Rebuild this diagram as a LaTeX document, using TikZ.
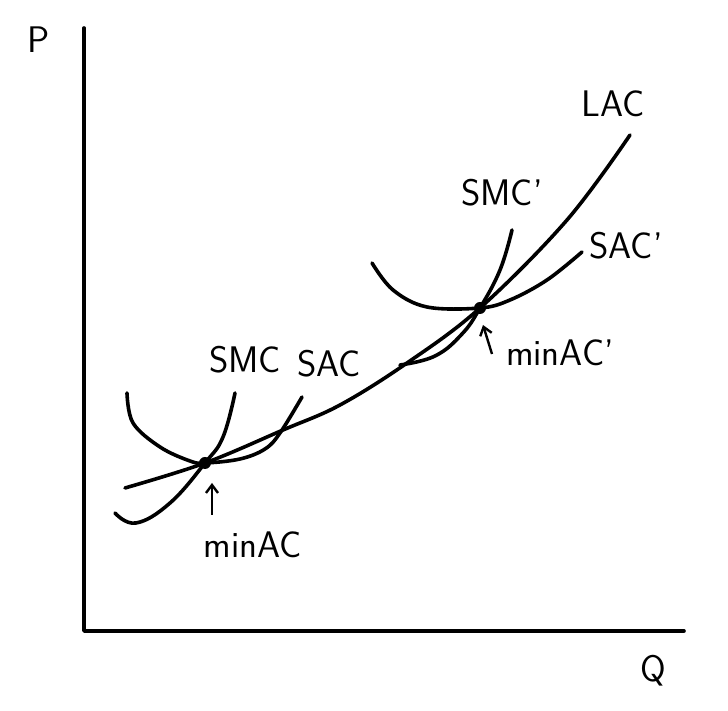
\documentclass[tikz,border=0pt]{standalone}
\usepackage{tikz}
\usetikzlibrary{arrows.meta,positioning}

\tikzset{
  curve/.style={line width=3.6pt, line cap=round, line join=round},
  lbl/.style={font=\sffamily\fontsize{37}{37}\selectfont, inner sep=0pt},
  dot/.style={circle, fill=black, inner sep=0pt, minimum size=12pt},
  arr/.style={line width=2.4pt, -{Straight Barb[length=8pt,width=12pt]}}
}

\begin{document}
\begin{tikzpicture}[x=1pt,y=1pt]
\useasboundingbox (0,0) rectangle (728,711);

%axes
\coordinate (o) at (84,80);
\coordinate (ytop) at (84,683);
\coordinate (xend) at (684,80);
\draw[curve] (ytop) -- (o) -- (xend);
\node[lbl] (p) at (39,671) {P};
\node[lbl] (q) at (653,40) {Q};

%tangency points
\node[dot] (t1) at (205,248) {};
\node[dot] (t2) at (480,403) {};

%LAC
\draw[curve] plot[smooth, tension=0.6] coordinates {(125,223) (t1) (283,281) (340,306) (407,348) (t2) (567,491) (630,576)};
\node[lbl] (lac) at (613,607) {LAC};

%SAC, SMC
\draw[curve] plot[smooth, tension=0.6] coordinates {(127,318) (133,288) (160,264) (190,250) (t1) (240,252) (265,262) (280,278) (302,314)};
\draw[curve] plot[smooth, tension=0.7] coordinates {(115,198) (136,188) (170,208) (t1) (223,274) (235,318)};
\node[lbl] (smc) at (245,351) {SMC};
\node[lbl] (sac) at (329,347) {SAC};

%SAC', SMC'
\draw[curve] plot[smooth, tension=0.6] coordinates {(372,448) (393,421) (427,404) (t2) (510,411) (547,431) (582,459)};
\draw[curve] plot[smooth, tension=0.7] coordinates {(400,346) (435,355) (462,377) (t2) (500,441) (512,481)};
\node[lbl] (smc2) at (502,518) {SMC'};
\node[lbl] (sac2) at (626,465) {SAC'};

%minAC
\node[lbl] (min1) at (253,166) {minAC};
\coordinate (a1) at (212,196);
\coordinate (b1) at (212,228);
\draw[arr] (a1) -- (b1);
\node[lbl] (min2) at (560,358) {minAC'};
\coordinate (a2) at (492,357);
\coordinate (b2) at (483,386);
\draw[arr] (a2) -- (b2);
\end{tikzpicture}
\end{document}
